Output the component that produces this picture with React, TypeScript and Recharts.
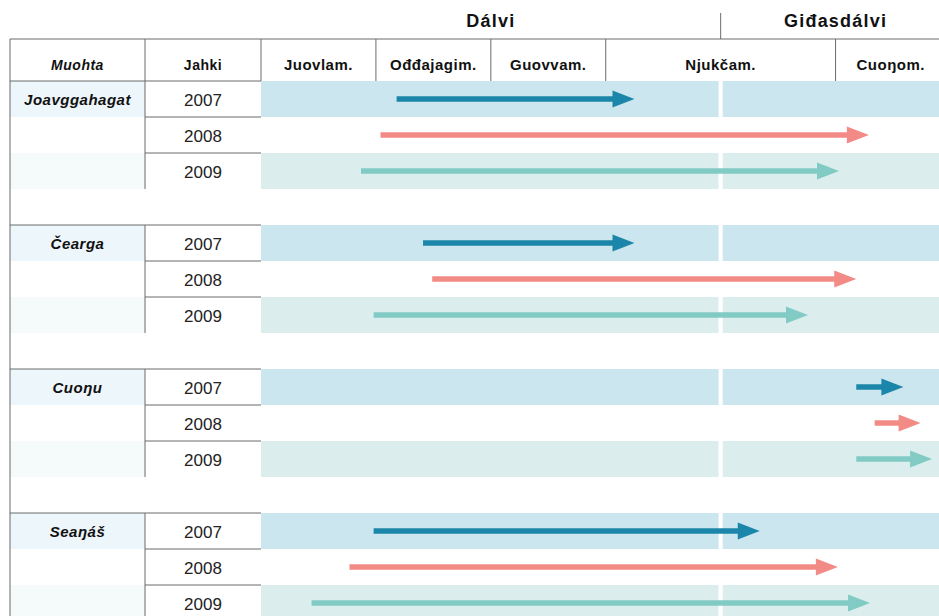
import React from 'react';
import { BarChart, Bar, XAxis, YAxis, ReferenceArea } from 'recharts';

// ---------- data ----------
const regions = ['Joavggahagat', 'Čearga', 'Cuoŋu', 'Seaŋáš'];
const years = ['2007', '2008', '2009'];

// [start, end] positions in month-column units (0 = start of Juovlam.)
const joavggahagatSpans: [number, number][] = [[1.18, 3.25], [1.04, 5.29], [0.87, 5.03]];
const ceargaSpans: [number, number][] = [[1.41, 3.25], [1.49, 5.18], [0.98, 4.76]];
const cuonuSpans: [number, number][] = [[5.18, 5.59], [5.34, 5.74], [5.18, 5.84]];
const seanasSpans: [number, number][] = [[0.98, 4.34], [0.77, 5.02], [0.44, 5.30]];

const monthLabels = ['Juovlam.', 'Ođđajagim.', 'Guovvam.', 'Njukčam.', 'Cuoŋom.'];
const monthCenters = [0.5, 1.5, 2.5, 4.0, 5.48];
const monthBoundaries = [0, 1, 2, 3, 5];
const seasonLabels = ['Dálvi', 'Giđasdálvi'];
const seasonCenters = [2, 5];
const seasonDivider = 4;
const X_MAX = 5.9;

// ---------- styling / layout ----------
const W = 939;
const H = 621;
const L = 10; // table left edge
const COL_YEAR = 145;
const COL_DATA = 261;
const ROW_H = 36;
const FONT = '"Liberation Sans", Arial, Helvetica, sans-serif';
const LINE = '#6b6b6b';
const arrowColors = ['#1b86aa', '#f28a86', '#82cbc4'];
const bandColors = ['#cbe6ef', null, '#dbeeed'];
const catBg = ['#edf6fa', '#ffffff', '#f5fafa'];
const GAP = 0.018;

const spansByRegion = [joavggahagatSpans, ceargaSpans, cuonuSpans, seanasSpans];

type Row = {
  key: string;
  region?: string;
  year?: string;
  yi: number;
  spacer: boolean;
  range: [number, number] | null;
};

const rows: Row[] = [];
regions.forEach((r, gi) => {
  years.forEach((y, yi) => {
    rows.push({ key: `${r}-${y}`, region: r, year: y, yi, spacer: false, range: spansByRegion[gi][yi] });
  });
  if (gi < regions.length - 1) rows.push({ key: `gap-${gi}`, yi: -1, spacer: true, range: null });
});
const rowByKey: Record<string, Row> = {};
rows.forEach((r) => (rowByKey[r.key] = r));

const headerTicks = Array.from(
  new Set([...monthBoundaries, ...monthCenters, ...seasonCenters, seasonDivider])
).sort((a, b) => a - b);

const near = (a: number, b: number) => Math.abs(a - b) < 1e-6;

const HeaderTick = (props: any) => {
  const { x, y, payload } = props;
  const v = Number(payload.value);
  const els: React.ReactNode[] = [];
  if (near(v, 0)) {
    els.push(<line key="top" x1={L} x2={W} y1={y - 42} y2={y - 42} stroke={LINE} strokeWidth={1} />);
    els.push(<line key="lb" x1={L} x2={L} y1={y - 42} y2={y} stroke={LINE} strokeWidth={1} />);
    els.push(<line key="cy" x1={COL_YEAR} x2={COL_YEAR} y1={y - 42} y2={y} stroke={LINE} strokeWidth={1} />);
    els.push(
      <text key="mu" x={(L + COL_YEAR) / 2} y={y - 11} textAnchor="middle" fontFamily={FONT} fontSize={14}
        fontWeight="bold" fontStyle="italic" letterSpacing={0.5} fill="#111">Muohta</text>
    );
    els.push(
      <text key="ja" x={(COL_YEAR + COL_DATA) / 2} y={y - 11} textAnchor="middle" fontFamily={FONT} fontSize={14}
        fontWeight="bold" letterSpacing={0.5} fill="#111">Jahki</text>
    );
  }
  if (monthBoundaries.some((b) => near(b, v))) {
    els.push(<line key="mb" x1={x} x2={x} y1={y - 42} y2={y} stroke={LINE} strokeWidth={1} />);
  }
  const mi = monthCenters.findIndex((c) => near(c, v));
  if (mi >= 0) {
    els.push(
      <text key="ml" x={x} y={y - 11} textAnchor="middle" fontFamily={FONT} fontSize={15} fontWeight="bold"
        letterSpacing={0.5} fill="#111">{monthLabels[mi]}</text>
    );
  }
  const si = seasonCenters.findIndex((c) => near(c, v));
  if (si >= 0) {
    els.push(
      <text key="sl" x={x} y={y - 54} textAnchor="middle" fontFamily={FONT} fontSize={18} fontWeight="bold"
        letterSpacing={1.2} fill="#111">{seasonLabels[si]}</text>
    );
  }
  if (near(v, seasonDivider)) {
    els.push(<line key="sd" x1={x} x2={x} y1={y - 68} y2={y - 42} stroke={LINE} strokeWidth={1} />);
  }
  return <g>{els}</g>;
};

const RowTick = (props: any) => {
  const { y, payload } = props;
  const row = rowByKey[payload.value];
  if (!row) return null;
  const top = y - ROW_H / 2;
  const bottom = y + ROW_H / 2;
  if (row.spacer) {
    return <line x1={L} x2={L} y1={top} y2={bottom} stroke={LINE} strokeWidth={1} />;
  }
  return (
    <g>
      <rect x={L} y={top} width={COL_YEAR - L} height={ROW_H} fill={catBg[row.yi]} />
      <line x1={L} x2={L} y1={top} y2={bottom} stroke={LINE} strokeWidth={1} />
      <line x1={COL_YEAR} x2={COL_YEAR} y1={top} y2={bottom} stroke={LINE} strokeWidth={1} />
      <line x1={row.yi === 0 ? L : COL_YEAR} x2={COL_DATA} y1={top} y2={top} stroke={LINE} strokeWidth={1} />
      {row.yi === 0 && (
        <text x={(L + COL_YEAR) / 2} y={y + 6} textAnchor="middle" fontFamily={FONT} fontSize={15}
          fontWeight="bold" fontStyle="italic" letterSpacing={0.5} fill="#111">{row.region}</text>
      )}
      <text x={(COL_YEAR + COL_DATA) / 2} y={y + 6.5} textAnchor="middle" fontFamily={FONT} fontSize={17}
        fill="#222">{row.year}</text>
    </g>
  );
};

const ArrowShape = (props: any) => {
  const { x, y, width, height } = props;
  const p = props.payload || props;
  if (!p || p.spacer || !isFinite(x) || !isFinite(width)) return null;
  const color = arrowColors[p.yi];
  const cy = y + height / 2;
  const tip = x + width;
  const headLen = 22;
  const headHalf = 8.5;
  return (
    <g>
      <line x1={x} x2={tip - headLen + 1} y1={cy} y2={cy} stroke={color} strokeWidth={5.5} />
      <polygon
        points={`${tip},${cy} ${tip - headLen},${cy - headHalf} ${tip - headLen},${cy + headHalf}`}
        fill={color}
      />
    </g>
  );
};

export default function App() {
  const bandRows = rows.filter((r) => !r.spacer && bandColors[r.yi]);
  return (
    <div style={{ position: 'absolute', left: 0, top: 0, width: W, height: 616, overflow: 'hidden', background: '#fff' }}>
      <BarChart
        width={W}
        height={H}
        data={rows}
        layout="vertical"
        margin={{ top: 0, right: 0, bottom: 0, left: L }}
        barSize={16}
      >
        <XAxis
          type="number"
          domain={[0, X_MAX]}
          allowDataOverflow
          orientation="top"
          height={81}
          ticks={headerTicks}
          interval={0}
          axisLine={false}
          tickLine={false}
          tickSize={0}
          tickMargin={0}
          tick={<HeaderTick />}
        />
        <YAxis
          type="category"
          dataKey="key"
          width={COL_DATA - L}
          interval={0}
          axisLine={false}
          tickLine={false}
          tickSize={0}
          tickMargin={0}
          tick={<RowTick />}
        />
        {bandRows.map((r) => (
          <ReferenceArea
            key={`b1-${r.key}`}
            y1={r.key}
            y2={r.key}
            x1={0}
            x2={seasonDivider - GAP}
            fill={bandColors[r.yi] as string}
            fillOpacity={1}
            stroke="none"
          />
        ))}
        {bandRows.map((r) => (
          <ReferenceArea
            key={`b2-${r.key}`}
            y1={r.key}
            y2={r.key}
            x1={seasonDivider + GAP}
            x2={X_MAX}
            fill={bandColors[r.yi] as string}
            fillOpacity={1}
            stroke="none"
          />
        ))}
        <Bar dataKey="range" isAnimationActive={false} shape={<ArrowShape />} />
      </BarChart>
    </div>
  );
}
